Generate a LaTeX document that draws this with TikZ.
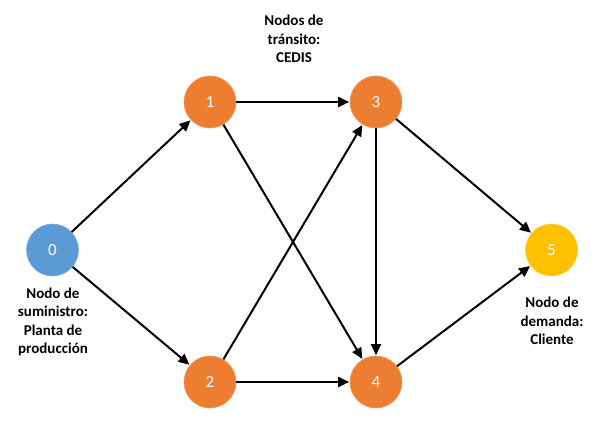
\documentclass[tikz,border=0pt]{standalone}
\usepackage{fontspec}
\setmainfont{Carlito}
\usetikzlibrary{arrows.meta}
\definecolor{nblue}{HTML}{5B9BD5}
\definecolor{norange}{HTML}{ED7D31}
\definecolor{nyellow}{HTML}{FFC000}
\tikzset{
  vertex/.style={circle, minimum size=52pt, inner sep=0pt, text=white,
    font=\fontsize{17}{20}\selectfont, draw=#1!80!white, line width=0.6pt, fill=#1},
  link/.style={line width=2pt, -{Triangle[length=11pt,width=10pt]}, shorten >=0.5pt},
  lbl/.style={align=center, font=\bfseries\fontsize{15}{18.4}\selectfont, inner sep=0pt}
}
\begin{document}
\begin{tikzpicture}[x=1pt,y=-1pt]
\useasboundingbox (0,0) rectangle (606,427);
\node[vertex=nblue] (n0) at (52.5,250) {0};
\node[vertex=norange] (n1) at (210,102) {1};
\node[vertex=norange] (n2) at (210,382) {2};
\node[vertex=norange] (n3) at (376,102) {3};
\node[vertex=norange] (n4) at (376,382) {4};
\node[vertex=nyellow] (n5) at (551.5,250) {5};
\node[lbl] (t0) at (53,322) {Nodo de\\suministro:\\Planta de\\producción};
\node[lbl] (t1) at (294,39) {Nodos de\\tránsito:\\CEDIS};
\node[lbl] (t5) at (552,321) {Nodo de\\demanda:\\Cliente};
\draw[link] (n0) -- (n1);
\draw[link] (n0) -- (n2);
\draw[link] (n1) -- (n3);
\draw[link] (n1) -- (n4);
\draw[link] (n2) -- (n3);
\draw[link] (n2) -- (n4);
\draw[link] (n3) -- (n4);
\draw[link] (n3) -- (n5);
\draw[link] (n4) -- (n5);
\end{tikzpicture}
\end{document}
